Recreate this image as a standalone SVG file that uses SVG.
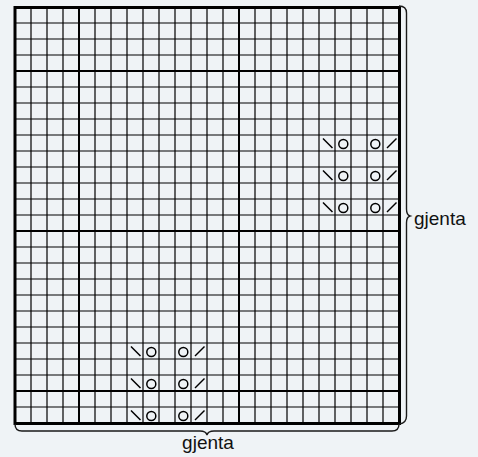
<svg xmlns="http://www.w3.org/2000/svg" width="478" height="457" viewBox="0 0 478 457">
<style>
.thin{stroke:#000;stroke-width:1.2;fill:none}
.mid{stroke:#000;stroke-width:2;fill:none}
.frame{stroke:#000;stroke-width:3;fill:none}
.sym{stroke:#000;stroke-width:1.5;fill:none;stroke-linecap:butt}
.brace{stroke:#1a1a1a;stroke-width:1.4;fill:none}
.lbl{font-family:"Liberation Sans",Arial,sans-serif;font-size:19px;fill:#111}
</style>
<defs>
<g id="dl"><line x1="4" y1="3.5" x2="13.5" y2="13" class="sym"/></g>
<g id="dr"><line x1="4" y1="13" x2="13.5" y2="3.5" class="sym"/></g>
<g id="yo"><circle cx="8.3" cy="9" r="4.5" class="sym"/></g>
<g id="motif">
<use href="#dl" x="0" y="0"/><use href="#yo" x="16" y="0"/><use href="#yo" x="48" y="0"/><use href="#dr" x="64" y="0"/>
</g>
</defs>
<rect width="478" height="457" fill="#eff3f6"/>
<g id="grid">
<path class="thin" d="M31,7V423M47,7V423M63,7V423M95,7V423M111,7V423M127,7V423M143,7V423M159,7V423M175,7V423M191,7V423M207,7V423M223,7V423M255,7V423M271,7V423M287,7V423M303,7V423M319,7V423M335,7V423M351,7V423M367,7V423M383,7V423"/>
<path class="thin" d="M15,23H399M15,39H399M15,55H399M15,87H399M15,103H399M15,119H399M15,135H399M15,151H399M15,167H399M15,183H399M15,199H399M15,215H399M15,247H399M15,263H399M15,279H399M15,295H399M15,311H399M15,327H399M15,343H399M15,359H399M15,375H399M15,407H399"/>
<path class="mid" d="M79,7V423M239,7V423M15,71H399M15,231H399M15,391H399"/>
<rect class="frame" x="15" y="7.5" width="384.5" height="416"/>
</g>
<g id="symbols">
<use href="#motif" x="319" y="135"/>
<use href="#motif" x="319" y="167"/>
<use href="#motif" x="319" y="199"/>
<use href="#motif" x="127" y="343"/>
<use href="#motif" x="127" y="375"/>
<use href="#motif" x="127" y="407"/>
</g>
<g id="connectors">
<path class="brace" d="M399,6 Q406.5,6 406.5,13 L406.5,209 Q406.5,215 410,216 Q406.5,217 406.5,223 L406.5,416 Q406.5,423 399.5,424"/>
<path class="brace" d="M15,424 Q15,431 22,431 L200,431 Q206,431 207,435 Q208,431 214,431 L392,431 Q399,431 399,424"/>
</g>
<g id="label-right"><text class="lbl" x="414" y="225">gjenta</text></g>
<g id="label-bottom"><text class="lbl" x="208" y="449" text-anchor="middle">gjenta</text></g>
</svg>
